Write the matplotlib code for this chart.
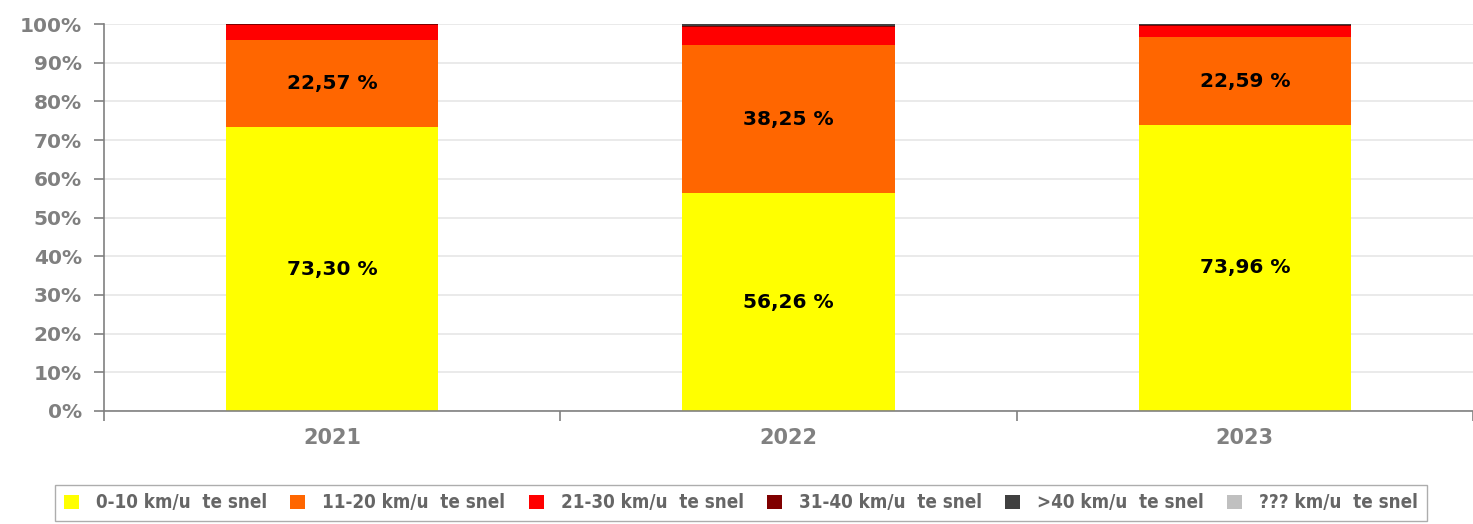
import numpy as np
import matplotlib.pyplot as plt
from matplotlib.patches import Patch
from matplotlib.ticker import FixedLocator, FuncFormatter

years = ['2021', '2022', '2023']
series = ['0-10 km/u  te snel', '11-20 km/u  te snel', '21-30 km/u  te snel',
          '31-40 km/u  te snel', '>40 km/u  te snel', '??? km/u  te snel']
colors = ['#ffff00', '#ff6600', '#ff0000', '#800000', '#404040', '#c0c0c0']

v_0_10 = [73.30, 56.26, 73.96]
v_11_20 = [22.57, 38.25, 22.59]
v_21_30 = [3.80, 4.74, 3.05]
v_31_40 = [0.25, 0.30, 0.25]
v_40 = [0.08, 0.45, 0.15]
v_unknown = [0.0, 0.0, 0.0]
values = [v_0_10, v_11_20, v_21_30, v_31_40, v_40, v_unknown]

tick_color = '#808080'

fig = plt.figure(figsize=(14.73, 5.24), dpi=100)
ax = fig.add_axes([104 / 1473, 1 - 411 / 524, 1369 / 1473, 387 / 524])

x = np.arange(len(years))
bottom = np.zeros(len(years))
for name, vals, col in zip(series, values, colors):
    vals = np.array(vals)
    ax.bar(x, vals, 0.465, bottom=bottom, color=col, zorder=2, linewidth=0)
    if name.startswith('0-10') or name.startswith('11-20'):
        for xi, b, v in zip(x, bottom, vals):
            ax.text(xi, b + v / 2, f'{v:.2f} %'.replace('.', ','),
                    ha='center', va='center', fontsize=14.5,
                    fontweight='bold', color='black', zorder=3)
    bottom += vals

ax.set_xlim(-0.5, 2.5)
ax.set_ylim(0, 100)
ax.set_yticks(np.arange(0, 101, 10))
ax.yaxis.set_major_formatter(FuncFormatter(lambda v, p: f'{int(v)}%'))
ax.grid(axis='y', color='#e6e6e6', linewidth=1.2, zorder=0)

ax.set_xticks(x)
ax.set_xticklabels(years)
ax.xaxis.set_minor_locator(FixedLocator([-0.5, 0.5, 1.5, 2.5]))
ax.tick_params(axis='x', which='major', length=0, pad=12,
               labelsize=15, labelcolor=tick_color)
ax.tick_params(axis='x', which='minor', length=7, width=1.2, color=tick_color)
ax.tick_params(axis='y', length=7, width=1.2, color=tick_color,
               labelsize=14.5, labelcolor=tick_color, pad=9)
for lab in ax.get_xticklabels() + ax.get_yticklabels():
    lab.set_fontweight('bold')

for s in ['top', 'right']:
    ax.spines[s].set_visible(False)
for s in ['left', 'bottom']:
    ax.spines[s].set_color(tick_color)
    ax.spines[s].set_linewidth(1.2)
    ax.spines[s].set_zorder(4)

handles = [Patch(facecolor=c, edgecolor='none') for c in colors]
leg = fig.legend(handles, series, loc='center', ncol=6,
                 bbox_to_anchor=(741 / 1473, 1 - 503 / 524),
                 frameon=True, fancybox=False, edgecolor='#999999',
                 handlelength=0.8, handleheight=0.8, handletextpad=0.9,
                 columnspacing=1.25, borderpad=0.45,
                 prop={'family': 'DejaVu Sans', 'stretch': 'condensed',
                       'weight': 'bold', 'size': 13.5})
for t in leg.get_texts():
    t.set_color('#666666')

fig.savefig('out.png', dpi=100)
